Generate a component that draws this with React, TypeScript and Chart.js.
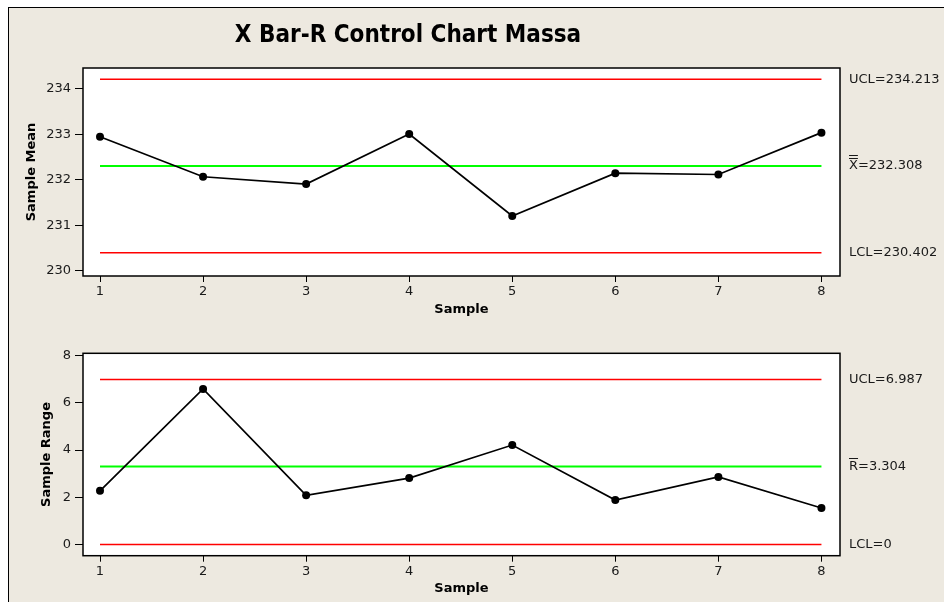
import React, { useEffect, useRef } from "react";
import { Chart, registerables } from "chart.js";

Chart.register(...registerables);

// ---- data ----
const samples = [1, 2, 3, 4, 5, 6, 7, 8];
const sampleMeans = [232.95, 232.07, 231.91, 233.01, 231.21, 232.15, 232.12, 233.04];
const sampleRanges = [2.27, 6.59, 2.08, 2.81, 4.21, 1.88, 2.86, 1.54];
const meanLimits = [234.213, 232.308, 230.402]; // UCL, center, LCL
const rangeLimits = [6.987, 3.304, 0]; // UCL, center, LCL
const meanLimitLabels = ["UCL=234.213", "X=232.308", "LCL=230.402"];
const rangeLimitLabels = ["UCL=6.987", "R=3.304", "LCL=0"];
const meanTicks = [230, 231, 232, 233, 234];
const rangeTicks = [0, 2, 4, 6, 8];
const sampleTicks = [1, 2, 3, 4, 5, 6, 7, 8];
const chartTitle = "X Bar-R Control Chart Massa";

const FONT = "'DejaVu Sans', Verdana, sans-serif";
const BG = "#EDE9E0";

type PanelSpec = {
  values: number[];
  limits: number[];
  limitLabels: string[];
  bars: number; // overline count on center label
  yMin: number;
  yMax: number;
  yTicks: number[];
  yTitle: string;
  yTitleX: number;
  areaTop: number;
  areaBottom: number;
  canvasH: number;
  xTitleY: number;
  title?: string;
};

function buildConfig(p: PanelSpec): any {
  const limitColors = ["#FF0000", "#00FF00", "#FF0000"];
  const limitWidths = [1.5, 2, 1.5];
  const datasets: any[] = [
    {
      data: samples.map((s, i) => ({ x: s, y: p.values[i] })),
      borderColor: "#000",
      borderWidth: 1.7,
      pointRadius: 4,
      pointBackgroundColor: "#000",
      pointBorderColor: "#000",
      pointBorderWidth: 0,
      order: 0,
    },
    ...p.limits.map((v, i) => ({
      data: [
        { x: samples[0], y: v },
        { x: samples[samples.length - 1], y: v },
      ],
      borderColor: limitColors[i],
      borderWidth: limitWidths[i],
      pointRadius: 0,
      order: 1,
    })),
  ];

  const overlay = {
    id: "overlay",
    beforeDraw(chart: any) {
      const { ctx, chartArea: a } = chart;
      ctx.save();
      ctx.fillStyle = "#fff";
      ctx.fillRect(a.left, a.top, a.right - a.left, a.bottom - a.top);
      ctx.restore();
    },
    afterDraw(chart: any) {
      const { ctx, chartArea: a } = chart;
      const ys = chart.scales.y;
      ctx.save();
      ctx.strokeStyle = "#000";
      ctx.lineWidth = 1.5;
      ctx.strokeRect(a.left, a.top, a.right - a.left, a.bottom - a.top);

      // limit labels
      ctx.fillStyle = "#1a1a1a";
      ctx.font = `13px ${FONT}`;
      ctx.textBaseline = "middle";
      ctx.textAlign = "left";
      const lx = a.right + 9;
      p.limits.forEach((v, i) => {
        const y = ys.getPixelForValue(v);
        ctx.fillText(p.limitLabels[i], lx, y);
        if (i === 1 && p.bars > 0) {
          const w = ctx.measureText(p.limitLabels[i][0]).width;
          ctx.strokeStyle = "#1a1a1a";
          ctx.lineWidth = 1;
          for (let b = 0; b < p.bars; b++) {
            const by = Math.round(y - 8 - b * 2.5) + 0.5;
            ctx.beginPath();
            ctx.moveTo(lx, by);
            ctx.lineTo(lx + w, by);
            ctx.stroke();
          }
        }
      });

      // axis titles
      ctx.fillStyle = "#000";
      ctx.font = `bold 13px ${FONT}`;
      ctx.textAlign = "center";
      ctx.textBaseline = "middle";
      ctx.fillText("Sample", (a.left + a.right) / 2, p.xTitleY);
      ctx.save();
      ctx.translate(p.yTitleX, (a.top + a.bottom) / 2);
      ctx.rotate(-Math.PI / 2);
      ctx.fillText(p.yTitle, 0, 0);
      ctx.restore();

      if (p.title) {
        ctx.font = `bold 24px 'DejaVu Sans Condensed', 'DejaVu Sans', sans-serif`;
        ctx.textAlign = "center";
        ctx.textBaseline = "alphabetic";
        ctx.fillText(p.title, 408, 42);
      }
      ctx.restore();
    },
  };

  return {
    type: "line",
    data: { datasets },
    plugins: [overlay],
    options: {
      responsive: false,
      animation: false,
      events: [],
      layout: { padding: { top: p.areaTop, right: 944 - 840, bottom: 0, left: 0 } },
      plugins: { legend: { display: false }, title: { display: false }, tooltip: { enabled: false } },
      scales: {
        x: {
          type: "linear",
          min: 0.835,
          max: 8.18,
          afterBuildTicks: (s: any) => {
            s.ticks = sampleTicks.map((v) => ({ value: v }));
          },
          afterFit: (s: any) => {
            s.height = p.canvasH - p.areaBottom;
          },
          border: { display: false },
          grid: { drawOnChartArea: false, drawTicks: true, tickLength: 6, color: "#000", lineWidth: 1 },
          ticks: { color: "#1a1a1a", font: { family: FONT, size: 13 }, padding: 2, maxRotation: 0, autoSkip: false },
        },
        y: {
          type: "linear",
          min: p.yMin,
          max: p.yMax,
          afterBuildTicks: (s: any) => {
            s.ticks = p.yTicks.map((v) => ({ value: v }));
          },
          afterFit: (s: any) => {
            s.width = 83;
          },
          border: { display: false },
          grid: { drawOnChartArea: false, drawTicks: true, tickLength: 8, color: "#000", lineWidth: 1 },
          ticks: { color: "#1a1a1a", font: { family: FONT, size: 13 }, padding: 4, autoSkip: false },
        },
      },
    },
  };
}

function Panel({ spec, top }: { spec: PanelSpec; top: number }) {
  const ref = useRef<HTMLCanvasElement>(null);
  useEffect(() => {
    if (!ref.current) return;
    const chart = new Chart(ref.current, buildConfig(spec));
    return () => chart.destroy();
  }, []);
  return (
    <canvas
      ref={ref}
      width={944}
      height={spec.canvasH}
      style={{ position: "absolute", left: 0, top, width: 944, height: spec.canvasH }}
    />
  );
}

const meanSpec: PanelSpec = {
  values: sampleMeans,
  limits: meanLimits,
  limitLabels: meanLimitLabels,
  bars: 2,
  yMin: 229.89,
  yMax: 234.46,
  yTicks: meanTicks,
  yTitle: "Sample Mean",
  yTitleX: 32,
  areaTop: 68,
  areaBottom: 276,
  canvasH: 330,
  xTitleY: 310,
  title: chartTitle,
};

const rangeSpec: PanelSpec = {
  values: sampleRanges,
  limits: rangeLimits,
  limitLabels: rangeLimitLabels,
  bars: 1,
  yMin: -0.48,
  yMax: 8.1,
  yTicks: rangeTicks,
  yTitle: "Sample Range",
  yTitleX: 47,
  areaTop: 23.3,
  areaBottom: 225.7,
  canvasH: 272,
  xTitleY: 259,
};

export default function App() {
  return (
    <div style={{ position: "fixed", left: 0, top: 0, width: 944, height: 602, background: "#fff", overflow: "hidden" }}>
      <div
        style={{
          position: "absolute",
          left: 8,
          top: 7,
          width: 944,
          height: 602,
          background: BG,
          borderLeft: "1px solid #000",
          borderTop: "1px solid #000",
        }}
      />
      <Panel spec={meanSpec} top={0} />
      <Panel spec={rangeSpec} top={330} />
    </div>
  );
}
